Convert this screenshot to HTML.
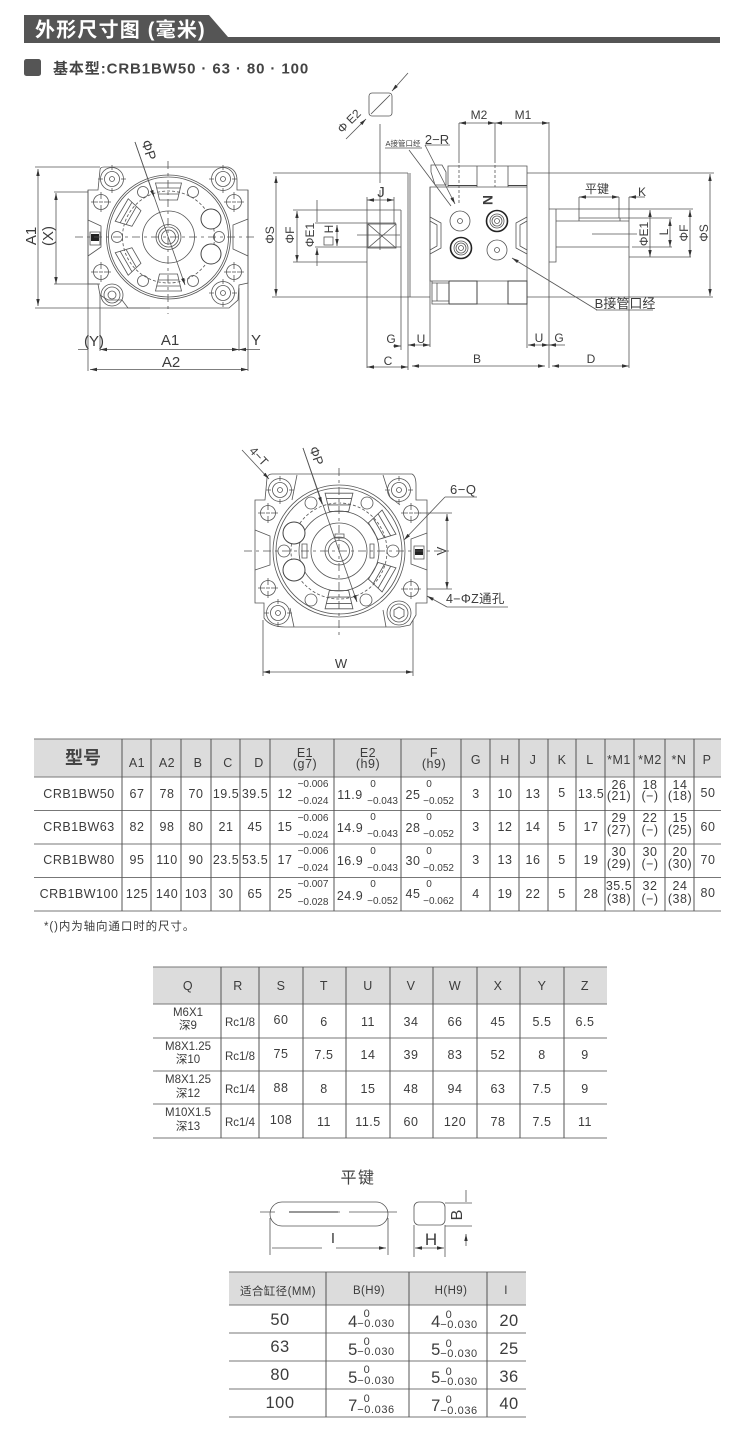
<!DOCTYPE html>
<html><head><meta charset="utf-8"><style>
html,body{margin:0;padding:0;background:#fff}
svg{display:block;filter:blur(.35px)}
text{font-family:"Liberation Sans","Noto Sans CJK SC",sans-serif;fill:#3c3c3c;text-anchor:middle}
.l{fill:none;stroke:#555;stroke-width:.8}
.d{stroke-dasharray:8 4 3 4}
.s{stroke-dasharray:3 2}
.m{font-size:15px}
.n{font-size:12.5px;letter-spacing:.5px}
.t{font-size:10px}
.e{font-size:10px}
.e text{text-anchor:end}
.k{font-size:11px;letter-spacing:.6px}
.r{font-size:16.5px;letter-spacing:.5px}
.h{fill:#dcdcdc}
.tl{stroke:#777;stroke-width:1;fill:none}
.big{fill:#fff;stroke:#444;stroke-width:1}
</style></head><body>
<svg xmlns="http://www.w3.org/2000/svg" width="750" height="1454" viewBox="0 0 750 1454">
<defs>
<marker id="a" markerWidth="8" markerHeight="5" refX="7" refY="2.5" orient="auto-start-reverse" markerUnits="userSpaceOnUse"><path d="M0 .8L7 2.5 0 4.2z" fill="#333"/></marker>
<g id="mt"><circle r="7.5" class="l"/><path d="M-10 0H-3M3 0H10M0-10V-3M0 3V10" class="l"/><path d="M-2 0H2" class="l"/></g>
<g id="bolt"><circle r="11.5" class="l"/><circle r="7.5" class="l"/><circle r="2.5" class="l"/><path d="M-14 0H-9M9 0H14M0-14V-9M0 9V14" class="l"/></g>
<g id="seg"><path d="M-13-54L13-54 9-37-9-37Z" class="l"/><path d="M-12-49H12M-10-43H10" class="l"/></g>
<g id="port"><circle r="10.5" fill="none" stroke="#222" stroke-width="1.6"/><circle r="7" class="l"/><circle r="5" class="l"/><circle r="2.5" class="l"/></g>
</defs>

<!-- header -->
<path d="M24 15H209L228 37H720V43H24Z" fill="#555"/>
<text x="35" y="36.5" style="font-size:20px;font-weight:bold;fill:#fff;text-anchor:start;letter-spacing:1.2px">外形尺寸图 (毫米)</text>
<rect x="24" y="59" width="17" height="17" rx="2.5" fill="#555"/>
<text x="53" y="73.5" style="font-size:15px;font-weight:bold;text-anchor:start;letter-spacing:.9px;fill:#444">基本型:CRB1BW50 · 63 · 80 · 100</text>

<!-- left view -->
<path class="l" d="M88 190H98L100 170Q100 167 104 167H228Q237 170 237 180V190H248V283L239 285 238 300 229 308H128L122 300H108L100 295 98 284H88Z"/>
<path class="l" d="M35 167H100M35 308H150M54 192H88M54 284H100"/>
<circle cx="168.5" cy="237" r="62" class="l"/><circle cx="168.5" cy="237" r="60" class="l"/><circle cx="168.5" cy="237" r="46" class="l s"/>
<circle cx="168.5" cy="237" r="26" class="l"/><circle cx="168.5" cy="237" r="12.5" class="l"/><circle cx="168.5" cy="237" r="10" class="l"/><circle cx="168.5" cy="237" r="7" class="l"/>
<use href="#bolt" x="112" y="179"/><use href="#bolt" x="223" y="179"/><use href="#bolt" x="223" y="293"/>
<circle cx="112" cy="295" r="11" class="l"/><circle cx="112" cy="295" r="8" class="l"/><circle cx="112" cy="295" r="4" class="l"/>
<use href="#mt" x="101" y="202"/><use href="#mt" x="234" y="202"/><use href="#mt" x="101" y="272"/><use href="#mt" x="234" y="272"/>
<g class="l"><circle cx="143" cy="192" r="5.5"/><circle cx="193" cy="192" r="5.5"/><circle cx="117" cy="237" r="5.5"/><circle cx="219" cy="237" r="5.5"/><circle cx="143" cy="281" r="5.5"/><circle cx="193" cy="281" r="5.5"/></g>
<circle cx="211" cy="219" r="10" class="big"/><circle cx="211" cy="254" r="10" class="big"/>
<use href="#seg" transform="translate(168.5 237)"/><use href="#seg" transform="translate(168.5 237) rotate(180)"/><use href="#seg" transform="translate(168.5 237) rotate(-60)"/><use href="#seg" transform="translate(168.5 237) rotate(-120)"/>
<path class="l" d="M88 220L101 226V247L88 256M248 219L233 225V249L248 256M90 232H100V245H90Z"/>
<rect x="91" y="234" width="8" height="7" fill="#222"/>
<path class="l d" d="M75 237H257M168 161V314"/>
<path class="l" d="M135 142L185 285" marker-end="url(#a)"/>
<path class="l" d="M154 197L135 142" marker-start="url(#a)"/>
<text class="m" transform="translate(149 150) rotate(72)" style="font-size:14px" y="5">ΦP</text>
<path class="l" d="M38 169V306" marker-start="url(#a)" marker-end="url(#a)"/>
<path class="l" d="M56 193V284" marker-start="url(#a)" marker-end="url(#a)"/>
<text class="m" transform="translate(36 236) rotate(-90)">A1</text><text class="m" transform="translate(53 236) rotate(-90)">(X)</text>
<path class="l" d="M88 190V371M100 295V351M239 288V351M248 190V371"/>
<path class="l" d="M78 349.5H88M260 349.5H239" marker-end="url(#a)"/>
<path class="l" d="M100 349.5H239" marker-start="url(#a)" marker-end="url(#a)"/>
<path class="l" d="M90 369.5H248" marker-start="url(#a)" marker-end="url(#a)"/>
<text class="m" x="94" y="346">(Y)</text><text class="m" x="170" y="345">A1</text><text class="m" x="256" y="345">Y</text><text class="m" x="171" y="367">A2</text>

<!-- middle view: left part -->
<path class="l" d="M273 173H408M272 297H430M293 210H401M293 262H367M315 223H396M315 247H401M401 210V350M367 197V368M408 173V370M410 173V297M430 187V347"/>
<path class="l" d="M276 176V296" marker-start="url(#a)" marker-end="url(#a)"/>
<path class="l" d="M297 211V262" marker-start="url(#a)" marker-end="url(#a)"/>
<path class="l" d="M317 200V222M317 266V248" marker-end="url(#a)"/>
<path class="l" d="M337 225V246" marker-start="url(#a)" marker-end="url(#a)"/>
<text transform="translate(275 235) rotate(-90)" y="-1" style="font-size:12px">ΦS</text>
<text transform="translate(295 235) rotate(-90)" y="-1" style="font-size:12px">ΦF</text>
<text transform="translate(315 235) rotate(-90)" y="-1" style="font-size:12px">ΦE1</text>
<text transform="translate(333 229) rotate(-90)" style="font-size:12px">H</text>
<rect x="324" y="237" width="9" height="8" class="l"/>
<rect x="368" y="224" width="28" height="24" class="l"/><path class="l" d="M368 224L396 248M396 224L368 248M357 235H400M394 197V224"/>
<path class="l" d="M367 200H394" marker-start="url(#a)" marker-end="url(#a)"/>
<text class="m" x="381" y="197">J</text>
<rect x="369" y="93" width="23" height="23" rx="3" class="l"/><path class="l" d="M371 114L390 95M380 124V183M380 190V250"/>
<path class="l" d="M408 73L392 91" marker-end="url(#a)"/>
<path class="l" d="M346 139L366 119" marker-end="url(#a)"/>
<text transform="translate(352 124) rotate(-45)" style="font-size:12px">Φ E2</text>

<!-- body -->
<path class="l" d="M430 187H527V281H430ZM448 166H527V187H448ZM432 281H527V304H432ZM431 165H442L446 172V185H435L431 172ZM477 166V187M508 166V187M449 281V304M477 281V304M508 281V304M527 173H714M527 297H713M527 173V348M549 122V368M437 283V301M432 283H449V301H432"/>
<path d="M448 185.5H477M508 185.5H527" stroke="#444" stroke-width="1"/>
<path d="M449 281V304M449 281H477V304H449M508 281H527V304H508Z" fill="none" stroke="#444" stroke-width="1"/>
<path class="l s" d="M459 160V203M495 160V187"/>
<path class="l" d="M459 123V160M495 123V160"/>
<path class="l" d="M459 123H495" marker-start="url(#a)" marker-end="url(#a)"/>
<path class="l" d="M495 123H549" marker-start="url(#a)" marker-end="url(#a)"/>
<text x="479" y="119" style="font-size:12px">M2</text><text x="523" y="119" style="font-size:12px">M1</text>
<text x="403" y="146" style="font-size:7.5px">A接管口经</text>
<text x="437" y="144" style="font-size:13px">2−R</text>
<path class="l" d="M425 145H450M385 148H422"/>
<path class="l" d="M409 150L451 206M425 145L455 204" marker-end="url(#a)"/>
<text transform="translate(483 200) rotate(90)" style="font-size:14px;font-weight:bold">N</text>
<circle cx="460" cy="221" r="10" class="l"/><circle cx="460" cy="221" r="2.5" class="l"/>
<circle cx="497" cy="250" r="10" class="l"/><circle cx="497" cy="250" r="2.5" class="l"/>
<use href="#port" x="497" y="221"/><use href="#port" x="461" y="248"/>
<path class="l" d="M430 217L441 223V248L430 254M430 221L437 225V246L430 250M527 217L516 223V248L527 254M527 221L520 225V246L527 250"/>

<!-- right shaft -->
<path class="l" d="M549 209H556V262H549M556 221H629V247H556ZM579 218H620V221H579ZM592 234H637M549 209H693M620 218H672M632 247H672M629 257H691M629 197V368M579 197V218M619 197V218"/>
<path class="l" d="M579 197H619" marker-start="url(#a)" marker-end="url(#a)"/>
<path class="l" d="M645 197H629" marker-end="url(#a)"/>
<text x="597" y="193" style="font-size:12px">平键</text><text x="642" y="196" style="font-size:12px">K</text>
<path class="l" d="M650 210V257" marker-start="url(#a)" marker-end="url(#a)"/>
<path class="l" d="M670 219V247" marker-start="url(#a)" marker-end="url(#a)"/>
<path class="l" d="M690 210V257" marker-start="url(#a)" marker-end="url(#a)"/>
<path class="l" d="M710 174V296" marker-start="url(#a)" marker-end="url(#a)"/>
<text transform="translate(648 234) rotate(-90)" style="font-size:12px">ΦE1</text>
<text transform="translate(670 232) rotate(-90)" y="-2" style="font-size:12px">L</text>
<text transform="translate(688 233) rotate(-90)" style="font-size:12px">ΦF</text>
<text transform="translate(708 233) rotate(-90)" style="font-size:12px">ΦS</text>
<text x="625" y="308" style="font-size:13px">B接管口经</text>
<path class="l" d="M596 310H653"/>
<path class="l" d="M597 310L512 258" marker-end="url(#a)"/>

<!-- bottom dims middle -->
<path class="l" d="M393 346H401" marker-end="url(#a)"/>
<path class="l" d="M408 345H430" marker-start="url(#a)" marker-end="url(#a)"/>
<path class="l" d="M528 345H549" marker-start="url(#a)" marker-end="url(#a)"/>
<path class="l" d="M565 345H549" marker-end="url(#a)"/>
<path class="l" d="M367 367H408" marker-start="url(#a)" marker-end="url(#a)"/>
<path class="l" d="M412 366H545" marker-start="url(#a)" marker-end="url(#a)"/>
<path class="l" d="M552 366H629" marker-start="url(#a)" marker-end="url(#a)"/>
<g style="font-size:12px"><text x="391" y="343">G</text><text x="421" y="343">U</text><text x="539" y="342">U</text><text x="559" y="342">G</text><text x="388" y="365">C</text><text x="477" y="363">B</text><text x="591" y="363">D</text></g>

<!-- lower view -->
<path class="l" d="M255 500H265L267 478Q268 474 272 474H412Q416 476 416 485V500H427V603H416V615L410 625 400 627H285Q270 627 264 618V603H255Z"/>
<circle cx="339" cy="551" r="66" class="l"/><circle cx="339" cy="551" r="63" class="l"/><circle cx="339" cy="551" r="48" class="l s"/>
<circle cx="339" cy="551" r="40" class="l"/><circle cx="339" cy="551" r="28" class="l"/><circle cx="339" cy="551" r="14" class="l"/><circle cx="339" cy="551" r="10.5" class="l"/>
<use href="#bolt" x="280" y="490"/><use href="#bolt" x="399" y="490"/><use href="#bolt" x="278" y="613"/>
<circle cx="399" cy="613" r="12" class="l"/><circle cx="399" cy="613" r="9" class="l"/><path class="l" d="M399 607L404 610V616L399 619 394 616V610Z"/>
<path class="l" d="M297 475L292 500M383 475L390 497 400 505M294 627L290 608M386 627L383 610"/>
<use href="#mt" x="268" y="513"/><use href="#mt" x="411" y="513"/><use href="#mt" x="268" y="588"/><use href="#mt" x="411" y="589"/>
<g class="l"><circle cx="311" cy="503" r="6"/><circle cx="367" cy="503" r="6"/><circle cx="284" cy="551" r="6"/><circle cx="393" cy="551" r="6"/><circle cx="311" cy="600" r="6"/><circle cx="366" cy="600" r="6"/></g>
<circle cx="294" cy="533" r="11" class="big"/><circle cx="294" cy="570" r="11" class="big"/>
<g transform="translate(339 551) scale(1.07)"><use href="#seg"/><use href="#seg" transform="rotate(180)"/><use href="#seg" transform="rotate(60)"/><use href="#seg" transform="rotate(120)"/></g>
<path class="l" d="M335 534H344V538H335ZM302 544H307V558H302ZM370 544H374V558H370Z"/>
<path class="l" d="M255 530L270 536V565L255 570M427 533L411 539V564L427 570M414 546H424V559H414Z"/>
<rect x="415" y="549" width="8" height="6" fill="#222"/>
<path class="l d" d="M244 551H450M339 468V637"/>
<path class="l" d="M303 448L357 602" marker-end="url(#a)"/>
<path class="l" d="M322 504L303 448" marker-start="url(#a)"/>
<text transform="translate(316 456) rotate(70)" y="4" style="font-size:13px">ΦP</text>
<path class="l" d="M242 450L269 479" marker-end="url(#a)"/>
<text transform="translate(258 457) rotate(47)" y="3" style="font-size:12px">4−T</text>
<path class="l" d="M420 513H452M427 589H452M263 620V676M413 620V676"/>
<path class="l" d="M447 514V589" marker-start="url(#a)" marker-end="url(#a)"/>
<path class="l" d="M263 672H413" marker-start="url(#a)" marker-end="url(#a)"/>
<text x="341" y="668" style="font-size:13px">W</text>
<text transform="translate(446 551) rotate(-90)" style="font-size:13px">V</text>
<text x="450" y="494" style="font-size:13px;text-anchor:start;letter-spacing:.5px">6−Q</text>
<path class="l" d="M445 497H477"/><path class="l" d="M445 497L404 540" marker-end="url(#a)"/>
<text x="446" y="603" style="font-size:12.5px;text-anchor:start;letter-spacing:.3px">4−ΦZ通孔</text>
<path class="l" d="M447 607H508"/><path class="l" d="M447 607L427 596" marker-end="url(#a)"/>

<!-- table 1 -->
<rect x="34" y="739" width="687" height="38" class="h"/>
<path class="tl" d="M34 739H721M34 777H721M34 810.5H721M34 844H721M34 877.5H721M34 911H721"/>
<path class="tl" style="stroke:#555" d="M122 739V911M151 739V911M181 739V911M211 739V911M240 739V911M270 739V911M334 739V911M401 739V911M461 739V911M490 739V911M519 739V911M548 739V911M576 739V911M605 739V911M634 739V911M665 739V911M694 739V911"/>
<text x="83" y="764" style="font-size:18px;font-weight:bold;fill:#444">型号</text>
<g class="n">
<text x="137" y="767">A1</text><text x="167" y="767">A2</text><text x="198" y="767">B</text><text x="228" y="767">C</text><text x="259" y="767">D</text>
<text x="305" y="757">E1</text><text x="305" y="768">(g7)</text><text x="368" y="757">E2</text><text x="368" y="768">(h9)</text><text x="434" y="757">F</text><text x="434" y="768">(h9)</text>
<text x="476" y="764">G</text><text x="505" y="764">H</text><text x="533" y="764">J</text><text x="562" y="764">K</text><text x="590" y="764">L</text><text x="619" y="764">*M1</text><text x="650" y="764">*M2</text><text x="679" y="764">*N</text><text x="707" y="764">P</text>
</g>
<g class="n">
<text x="79" y="798">CRB1BW50</text><text x="137" y="798">67</text><text x="167" y="798">78</text><text x="196" y="798">70</text><text x="226" y="798">19.5</text><text x="255" y="798">39.5</text>
<text x="285" y="798">12</text><text x="350" y="799">11.9</text><text x="413" y="799">25</text>
<text x="476" y="798">3</text><text x="505" y="798">10</text><text x="533" y="798">13</text><text x="562" y="797">5</text><text x="591" y="798">13.5</text>
<text x="619" y="789">26</text><text x="619" y="800">(21)</text><text x="650" y="789">18</text><text x="650" y="800">(−)</text><text x="680" y="789">14</text><text x="680" y="800">(18)</text><text x="708" y="797">50</text>
</g>
<g class="n">
<text x="79" y="831">CRB1BW63</text><text x="137" y="831">82</text><text x="167" y="831">98</text><text x="196" y="831">80</text><text x="226" y="831">21</text><text x="255" y="831">45</text>
<text x="285" y="831">15</text><text x="350" y="832">14.9</text><text x="413" y="832">28</text>
<text x="476" y="831">3</text><text x="505" y="831">12</text><text x="533" y="831">14</text><text x="562" y="831">5</text><text x="591" y="831">17</text>
<text x="619" y="822">29</text><text x="619" y="834">(27)</text><text x="650" y="822">22</text><text x="650" y="834">(−)</text><text x="680" y="822">15</text><text x="680" y="834">(25)</text><text x="708" y="831">60</text>
</g>
<g class="n">
<text x="79" y="864">CRB1BW80</text><text x="137" y="864">95</text><text x="167" y="864">110</text><text x="196" y="864">90</text><text x="226" y="864">23.5</text><text x="255" y="864">53.5</text>
<text x="285" y="864">17</text><text x="350" y="865">16.9</text><text x="413" y="865">30</text>
<text x="476" y="864">3</text><text x="505" y="864">13</text><text x="533" y="864">16</text><text x="562" y="864">5</text><text x="591" y="864">19</text>
<text x="619" y="856">30</text><text x="619" y="868">(29)</text><text x="650" y="856">30</text><text x="650" y="868">(−)</text><text x="680" y="856">20</text><text x="680" y="868">(30)</text><text x="708" y="864">70</text>
</g>
<g class="n">
<text x="79" y="898">CRB1BW100</text><text x="137" y="898">125</text><text x="167" y="898">140</text><text x="196" y="898">103</text><text x="226" y="898">30</text><text x="255" y="898">65</text>
<text x="285" y="898">25</text><text x="350" y="900">24.9</text><text x="413" y="898">45</text>
<text x="476" y="898">4</text><text x="505" y="898">19</text><text x="533" y="898">22</text><text x="562" y="898">5</text><text x="591" y="898">28</text>
<text x="619" y="890">35.5</text><text x="619" y="903">(38)</text><text x="650" y="890">32</text><text x="650" y="903">(−)</text><text x="680" y="890">24</text><text x="680" y="903">(38)</text><text x="708" y="897">80</text>
</g>
<g class="t">
<text x="313" y="787">−0.006</text><text x="313" y="804">−0.024</text><text x="313" y="821">−0.006</text><text x="313" y="838">−0.024</text><text x="313" y="854">−0.006</text><text x="313" y="871">−0.024</text><text x="313" y="887">−0.007</text><text x="313" y="905">−0.028</text>
<text x="373" y="787">0</text><text x="373" y="820">0</text><text x="373" y="854">0</text><text x="373" y="887">0</text>
<text x="429" y="787">0</text><text x="429" y="820">0</text><text x="429" y="854">0</text><text x="429" y="887">0</text>
</g>
<g class="e">
<text x="398" y="804">−0.043</text><text x="398" y="837">−0.043</text><text x="398" y="871">−0.043</text><text x="398" y="904">−0.052</text>
<text x="454" y="804">−0.052</text><text x="454" y="837">−0.052</text><text x="454" y="871">−0.052</text><text x="454" y="904">−0.062</text>
</g>
<text x="44" y="930" style="font-size:11.5px;text-anchor:start;letter-spacing:.9px">*()内为轴向通口时的尺寸。</text>

<!-- table 2 -->
<rect x="153" y="967" width="454" height="37" class="h"/>
<path class="tl" d="M153 967H607M153 1004H607M153 1038H607M153 1071H607M153 1104H607M153 1138H607"/>
<path class="tl" style="stroke:#555" d="M221 967V1138M259 967V1138M303 967V1138M346 967V1138M390 967V1138M433 967V1138M477 967V1138M520 967V1138M564 967V1138"/>
<g class="n">
<text x="188" y="990">Q</text><text x="238" y="990">R</text><text x="281" y="990">S</text><text x="324" y="990">T</text><text x="368" y="990">U</text><text x="411" y="990">V</text><text x="455" y="990">W</text><text x="498" y="990">X</text><text x="542" y="990">Y</text><text x="585" y="990">Z</text>
<text x="281" y="1024">60</text><text x="324" y="1026">6</text><text x="368" y="1026">11</text><text x="411" y="1026">34</text><text x="455" y="1026">66</text><text x="498" y="1026">45</text><text x="542" y="1026">5.5</text><text x="585" y="1026">6.5</text>
<text x="281" y="1058">75</text><text x="324" y="1059">7.5</text><text x="368" y="1059">14</text><text x="411" y="1059">39</text><text x="455" y="1059">83</text><text x="498" y="1059">52</text><text x="542" y="1059">8</text><text x="585" y="1059">9</text>
<text x="281" y="1092">88</text><text x="324" y="1093">8</text><text x="368" y="1093">15</text><text x="411" y="1093">48</text><text x="455" y="1093">94</text><text x="498" y="1093">63</text><text x="542" y="1093">7.5</text><text x="585" y="1093">9</text>
<text x="281" y="1124">108</text><text x="324" y="1126">11</text><text x="368" y="1126">11.5</text><text x="411" y="1126">60</text><text x="455" y="1126">120</text><text x="498" y="1126">78</text><text x="542" y="1126">7.5</text><text x="585" y="1126">11</text>
</g>
<g style="font-size:11.5px">
<text x="188" y="1016">M6X1</text><text x="188" y="1029">深9</text><text x="188" y="1050">M8X1.25</text><text x="188" y="1063">深10</text><text x="188" y="1083">M8X1.25</text><text x="188" y="1097">深12</text><text x="188" y="1116">M10X1.5</text><text x="188" y="1130">深13</text>
<text x="240" y="1026">Rc1/8</text><text x="240" y="1060">Rc1/8</text><text x="240" y="1093">Rc1/4</text><text x="240" y="1126">Rc1/4</text>
</g>

<!-- key -->
<text x="358" y="1183" style="font-size:16px;letter-spacing:1.5px;fill:#444">平键</text>
<rect x="270" y="1202" width="118" height="24" rx="12" class="l"/>
<path class="l" d="M260 1212H275M289 1212H340M349 1212H397M270 1218V1255M388 1218V1255"/>
<path stroke="#777" stroke-width="1.5" d="M289 1212H338"/>
<path class="l" d="M322 1248H272M336 1248H386" marker-end="url(#a)"/>
<text x="333" y="1243" style="font-size:15px">I</text>
<rect x="414" y="1202" width="31" height="23" rx="5" class="l"/>
<path class="l" d="M414 1225V1257M445 1225V1257M445 1203H472M445 1226H472"/>
<path class="l" d="M415 1248H444" marker-start="url(#a)" marker-end="url(#a)"/>
<path class="l" d="M466 1190V1202M466 1246V1234" marker-end="url(#a)"/>
<text x="431" y="1245" style="font-size:17px">H</text>
<text transform="translate(462 1215) rotate(-90)" style="font-size:16px">B</text>

<!-- table 3 -->
<rect x="229" y="1272" width="297" height="33" class="h"/>
<path class="tl" d="M229 1272H526M229 1305H526M229 1333H526M229 1361H526M229 1389H526M229 1417H526"/>
<path class="tl" style="stroke:#555" d="M326 1272V1417M409 1272V1417M487 1272V1417"/>
<g style="font-size:11.5px;letter-spacing:.4px">
<text x="278" y="1295">适合缸径(MM)</text><text x="369" y="1294">B(H9)</text><text x="451" y="1294">H(H9)</text><text x="506" y="1294">I</text>
</g>
<g class="r">
<text x="280" y="1325">50</text><text x="280" y="1352">63</text><text x="280" y="1380">80</text><text x="280" y="1408">100</text>
<text x="509" y="1326">20</text><text x="509" y="1354">25</text><text x="509" y="1382">36</text><text x="509" y="1409">40</text>
<text x="353" y="1327">4</text><text x="353" y="1355">5</text><text x="353" y="1383">5</text><text x="353" y="1411">7</text>
<text x="436" y="1327">4</text><text x="436" y="1355">5</text><text x="436" y="1383">5</text><text x="436" y="1411">7</text>
</g>
<g class="k">
<text x="367" y="1317">0</text><text x="367" y="1345">0</text><text x="367" y="1373">0</text><text x="367" y="1402">0</text>
<text x="449" y="1318">0</text><text x="449" y="1347">0</text><text x="449" y="1375">0</text><text x="449" y="1403">0</text>
<text x="376" y="1327">−0.030</text><text x="376" y="1355">−0.030</text><text x="376" y="1384">−0.030</text><text x="376" y="1413">−0.036</text>
<text x="459" y="1328">−0.030</text><text x="459" y="1357">−0.030</text><text x="459" y="1385">−0.030</text><text x="459" y="1414">−0.036</text>
</g>
</svg>
</body></html>
